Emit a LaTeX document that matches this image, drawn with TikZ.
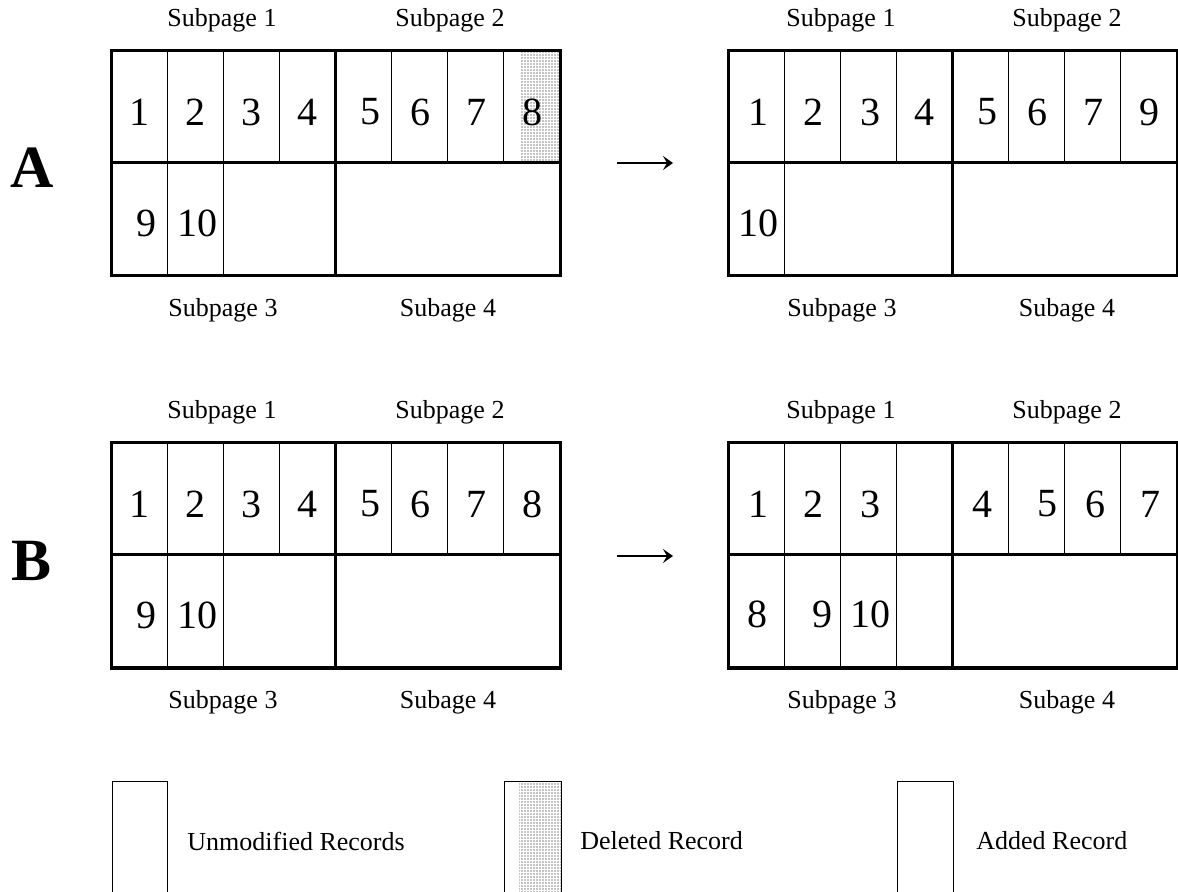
\documentclass[tikz,border=0pt]{standalone}
\usepackage{fontspec}
\setmainfont{Liberation Serif}
\usetikzlibrary{arrows.meta,patterns.meta}

\begin{document}
\begin{tikzpicture}[x=0.5pt,y=-0.5pt,
  frame/.style={line width=1.5pt},
  cell/.style={line width=0.5pt},
  num/.style={inner sep=0pt,font=\fontsize{20}{24}\selectfont},
  lbl/.style={inner sep=0pt,font=\fontsize{13}{15}\selectfont},
  panel/.style={inner sep=0pt,font=\fontsize{30}{36}\selectfont\bfseries},
  stipple/.style={pattern={Dots[distance=1.5pt,radius=0.35pt]},pattern color=black},
  move/.style={line width=1pt,-{Stealth[length=5pt,width=7pt,inset=2pt]}}]
  \useasboundingbox (0,0) rectangle (1178,892);

  % page A, before
  \begin{scope}[shift={(111,51)}]
    \fill[stipple] (409,0) rectangle (449,112);
    \foreach \x in {56.1,112.2,168.4,280.6,336.7,392.9} \draw[cell] (\x,0) -- (\x,112);
    \foreach \x in {56.1,112.2} \draw[cell] (\x,112) -- (\x,225);
    \draw[frame] (0,0) rectangle (449,225) (0,112) -- (449,112) (224.5,0) -- (224.5,225);
    \foreach \x/\t in {28/1,84/2,140/3,196/4,259/5,309/6,365/7,421/8}
      \node[num] (al\t) at (\x,61) {\t};
    \node[num] (al9) at (35,172) {9};
    \node[num] (al10) at (86,172) {10};
    \node[lbl] (al-s1) at (111,-31) {Subpage 1};
    \node[lbl] (al-s2) at (339,-31) {Subpage 2};
    \node[lbl] (al-s3) at (112,259) {Subpage 3};
    \node[lbl] (al-s4) at (337,259) {Subage 4};
  \end{scope}

  % page A, after
  \begin{scope}[shift={(728,51)}]
    \foreach \x in {56.1,112.2,168.4,280.6,336.7,392.9} \draw[cell] (\x,0) -- (\x,112);
    \draw[cell] (56.1,112) -- (56.1,225);
    \draw[frame] (0,0) rectangle (449,225) (0,112) -- (449,112) (224.5,0) -- (224.5,225);
    \foreach \x/\t in {30/1,85/2,142/3,196/4,259/5,309/6,365/7,421/9}
      \node[num] (ar\t) at (\x,61) {\t};
    \node[num] (ar10) at (30,172) {10};
    \node[lbl] (ar-s1) at (113,-31) {Subpage 1};
    \node[lbl] (ar-s2) at (339,-31) {Subpage 2};
    \node[lbl] (ar-s3) at (114,259) {Subpage 3};
    \node[lbl] (ar-s4) at (339,259) {Subage 4};
  \end{scope}

  % page B, before
  \begin{scope}[shift={(111,443)}]
    \foreach \x in {56.1,112.2,168.4,280.6,336.7,392.9} \draw[cell] (\x,0) -- (\x,112);
    \foreach \x in {56.1,112.2} \draw[cell] (\x,112) -- (\x,225);
    \draw[frame] (0,0) rectangle (449,225) (0,112) -- (449,112) (224.5,0) -- (224.5,225);
    \foreach \x/\t in {28/1,84/2,140/3,196/4,259/5,309/6,365/7,421/8}
      \node[num] (bl\t) at (\x,61) {\t};
    \node[num] (bl9) at (35,172) {9};
    \node[num] (bl10) at (86,172) {10};
    \node[lbl] (bl-s1) at (111,-31) {Subpage 1};
    \node[lbl] (bl-s2) at (339,-31) {Subpage 2};
    \node[lbl] (bl-s3) at (112,259) {Subpage 3};
    \node[lbl] (bl-s4) at (337,259) {Subage 4};
  \end{scope}

  % page B, after
  \begin{scope}[shift={(728,443)}]
    \foreach \x in {56.1,112.2,168.4,280.6,336.7,392.9} \draw[cell] (\x,0) -- (\x,112);
    \foreach \x in {56.1,112.2,168.4} \draw[cell] (\x,112) -- (\x,225);
    \draw[frame] (0,0) rectangle (449,225) (0,112) -- (449,112) (224.5,0) -- (224.5,225);
    \foreach \x/\t in {30/1,85/2,142/3,254/4,319/5,367/6,422/7}
      \node[num] (br\t) at (\x,61) {\t};
    \node[num] (br8) at (29,171) {8};
    \node[num] (br9) at (94,171) {9};
    \node[num] (br10) at (142,171) {10};
    \node[lbl] (br-s1) at (113,-31) {Subpage 1};
    \node[lbl] (br-s2) at (339,-31) {Subpage 2};
    \node[lbl] (br-s3) at (114,259) {Subpage 3};
    \node[lbl] (br-s4) at (339,259) {Subage 4};
  \end{scope}

  \node[panel] (pa) at (32,168) {A};
  \node[panel] (pb) at (32,561) {B};
  \coordinate (ta) at (617,163);
  \coordinate (ha) at (673,163);
  \coordinate (tb) at (617,556);
  \coordinate (hb) at (673,556);
  \draw[move] (ta) -- (ha);
  \draw[move] (tb) -- (hb);

  % legend
  \fill[stipple] (519,781) rectangle (561,892);
  \draw[cell] (112,892) -- (112,781) -- (167,781) -- (167,892);
  \draw[cell] (504,892) -- (504,781) -- (561,781) -- (561,892);
  \draw[cell] (897,892) -- (897,781) -- (953,781) -- (953,892);
  \node[lbl,anchor=west] (k-unmod) at (187,841) {Unmodified Records};
  \node[lbl,anchor=west] (k-del) at (580,841) {Deleted Record};
  \node[lbl,anchor=west] (k-add) at (976,841) {Added Record};
\end{tikzpicture}
\end{document}
